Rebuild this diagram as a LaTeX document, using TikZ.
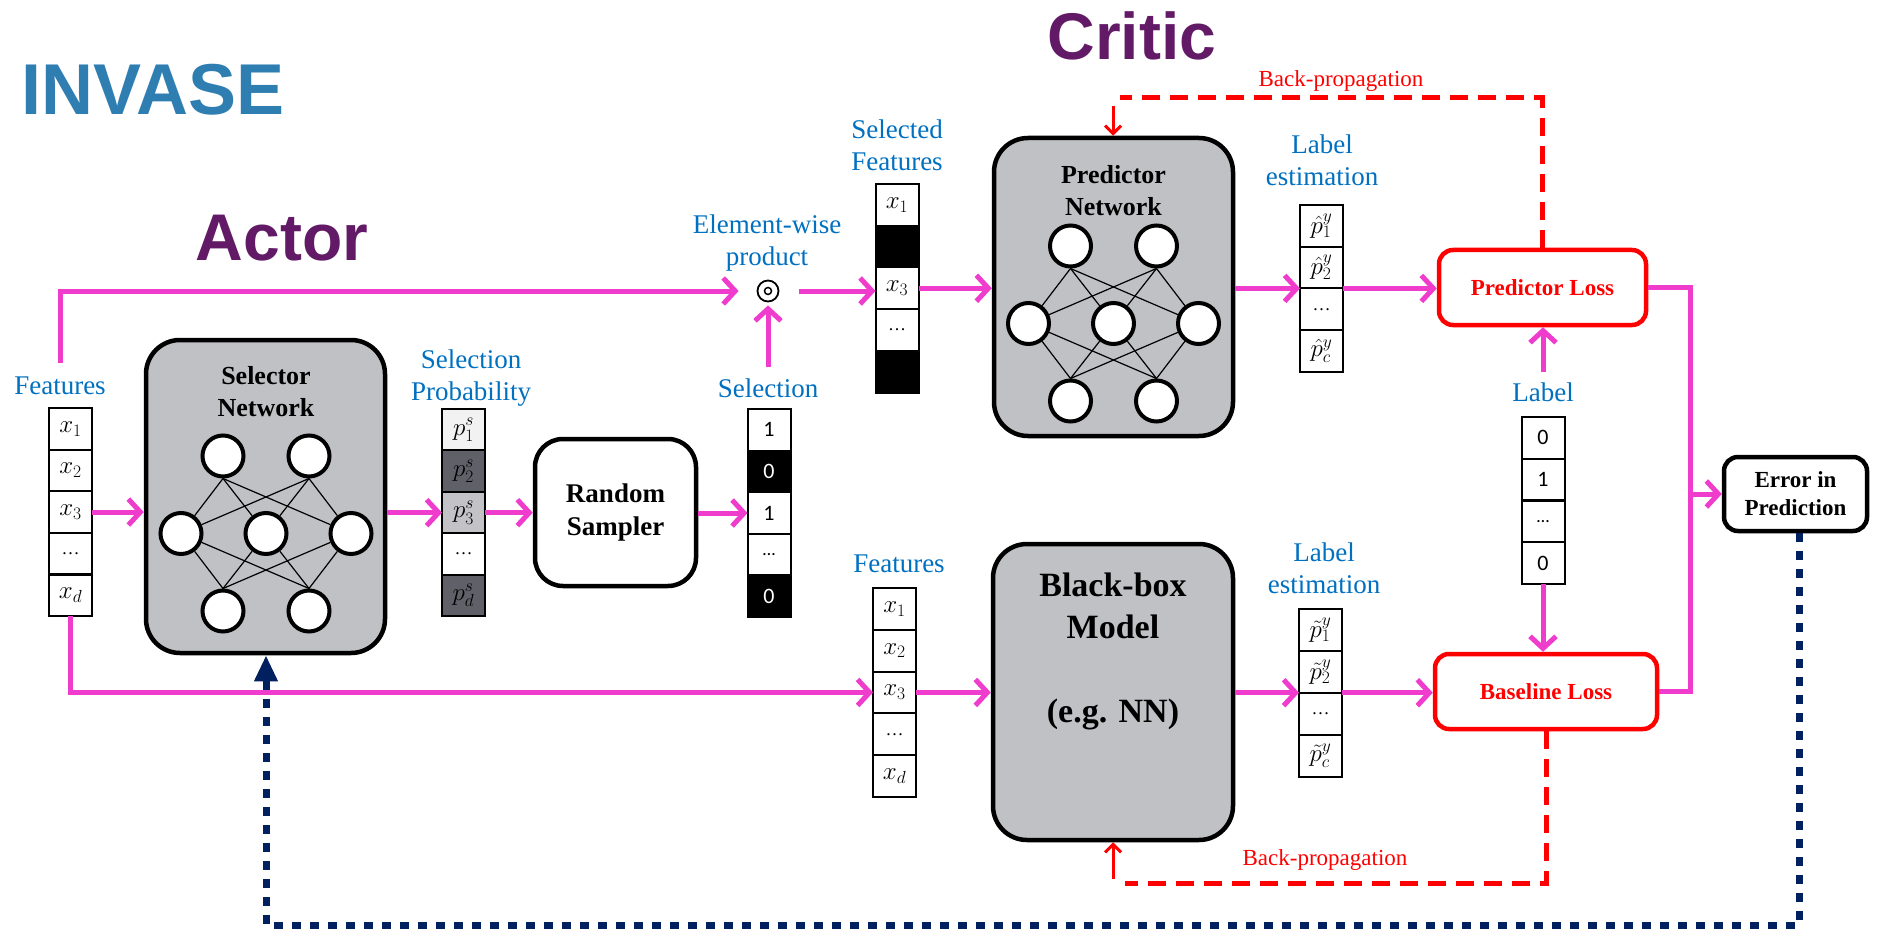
\RequirePackage{fix-cm}
\documentclass[tikz,border=0pt]{standalone}
\usepackage{fontspec}
\setmainfont{Liberation Serif}
\newfontfamily\headfont{Liberation Sans}
\newfontfamily\numfont{Carlito}
\usetikzlibrary{arrows.meta}

\definecolor{invblue}{RGB}{47,126,178}
\definecolor{rolepurple}{RGB}{98,25,102}
\definecolor{lblblue}{RGB}{0,112,192}
\definecolor{pinkc}{RGB}{240,60,205}
\definecolor{navyc}{RGB}{0,32,96}
\definecolor{boxgray}{RGB}{192,193,196}
\definecolor{lightc}{RGB}{242,242,242}
\definecolor{midc}{RGB}{195,195,199}
\definecolor{darkc}{RGB}{96,97,104}

% small ellipsis used inside the vector cells
\newcommand\celldots{{\fontsize{18}{20}\selectfont\dots}}

\tikzset{
  netbox/.style={draw, line width=4.5pt, fill=boxgray, inner sep=0pt},
  plainbox/.style={draw, line width=4.5pt, fill=white, align=center, inner sep=0pt},
  lossbox/.style={draw=red, line width=4.5pt, fill=white, rounded corners=14pt, text=red,
    align=center, inner sep=0pt, font=\bfseries\fontsize{23}{28}\selectfont},
  neuron/.style={circle, draw, line width=4pt, fill=white, minimum size=41pt, inner sep=0pt},
  synapse/.style={line width=1.2pt},
  cell/.style={draw, line width=2pt, minimum width=43pt, minimum height=41.7pt, inner sep=0pt,
    outer sep=0pt, anchor=north, font=\fontsize{25}{29}\selectfont},
  numcell/.style={cell, font=\numfont\fontsize{22}{26}\selectfont},
  lbl/.style={text=lblblue, align=center, inner sep=0pt, font=\fontsize{27}{32}\selectfont},
  bptext/.style={text=red, inner sep=0pt, font=\fontsize{23}{28}\selectfont},
  boxtitle/.style={align=center, inner sep=0pt, font=\bfseries\fontsize{26}{32}\selectfont},
  role/.style={inner sep=0pt, anchor=base, text=rolepurple, font=\headfont\bfseries\fontsize{66}{72}\selectfont},
  flow/.style={draw=pinkc, line width=5pt, -{Straight Barb[length=12pt,width=26pt]}},
  pinkline/.style={draw=pinkc, line width=5pt},
  bpline/.style={draw=red, line width=5pt, dash pattern=on 18pt off 10pt},
  bparrow/.style={draw=red, line width=3pt, -{Straight Barb[length=8pt,width=16pt]}},
  feedback/.style={draw=navyc, line width=7pt, dash pattern=on 9pt off 9pt,
    -{Triangle[length=26pt,width=22pt]}},
}

% a small fully connected network: prefix, centre x, y of the top row
\newcommand\neuralnet[3]{%
  \node[neuron] (#1t1) at ({#2-43},#3) {};
  \node[neuron] (#1t2) at ({#2+43},#3) {};
  \node[neuron] (#1m1) at ({#2-85},{#3+77.5}) {};
  \node[neuron] (#1m2) at (#2,{#3+77.5}) {};
  \node[neuron] (#1m3) at ({#2+85},{#3+77.5}) {};
  \node[neuron] (#1b1) at ({#2-43},{#3+155}) {};
  \node[neuron] (#1b2) at ({#2+43},{#3+155}) {};
  \foreach \u in {t1,t2}{\foreach \v in {m1,m2,m3}{\draw[synapse] (#1\u.south) -- (#1\v);}}
  \foreach \u in {b1,b2}{\foreach \v in {m1,m2,m3}{\draw[synapse] (#1\u.north) -- (#1\v);}}
}

\begin{document}
\begin{tikzpicture}[x=1pt,y=-1pt]
\useasboundingbox (0,0) rectangle (1877,936);
\fill[white] (0,0) rectangle (1877,936);

% headings
\node[inner sep=0pt, anchor=base, text=invblue, font=\headfont\bfseries\fontsize{72}{80}\selectfont]
  (invase) at (153,115) {INVASE};
\node[role] (actor) at (282,260) {Actor};
\node[role] (critic) at (1132,60) {Critic};

% ---------------- actor ----------------
\node[lbl, anchor=base] (featL) at (60,394) {Features};
\foreach \t [count=\i] in {$x_1$,$x_2$,$x_3$,\celldots,$x_d$}
  \node[cell] (fa\i) at (70.5,{408+(\i-1)*41.6}) {\t};

\node[netbox, minimum width=239pt, minimum height=313pt, rounded corners=34pt] (sel) at (265.5,496.5) {};
\node[boxtitle] (selT) at (266,392) {Selector\\Network};
\neuralnet{s}{266}{456}

\node[lbl] (probL) at (471,378) {Selection\\Probability};
\foreach \t/\c [count=\i] in {{$p^s_1$}/lightc,{$p^s_2$}/darkc,{$p^s_3$}/midc,{\celldots}/white,{$p^s_d$}/darkc}
  \node[cell, fill=\c] (pr\i) at (463.5,{409+(\i-1)*41.4}) {\t};

\node[plainbox, minimum width=161pt, minimum height=147pt, rounded corners=28pt,
  font=\bfseries\fontsize{27}{33}\selectfont] (samp) at (615.5,512.5) {Random\\Sampler};

\node[lbl, anchor=base] (selL) at (768,397) {Selection};
\foreach \t/\c/\k [count=\i] in {1/white/black,0/black/white,1/white/black,{\celldots}/white/black,0/black/white}
  \node[numcell, fill=\c, text=\k] (se\i) at (769,{409+(\i-1)*41.6}) {\t};

\node[circle, draw, line width=1.8pt, minimum size=21pt, inner sep=0pt] (odot) at (768,291) {};
\draw[line width=1.5pt] (odot.center) circle [radius=3.5pt];
\node[lbl] (ewL) at (767,243) {Element-wise\\product};

% ---------------- critic: predictor ----------------
\node[lbl] (sfL) at (897,145) {Selected\\Features};
\foreach \t/\c [count=\i] in {{$x_1$}/white,{}/black,{$x_3$}/white,{\celldots}/white,{}/black}
  \node[cell, fill=\c] (sf\i) at (897,{184+(\i-1)*41.7}) {\t};

\node[netbox, minimum width=239pt, minimum height=298pt, rounded corners=34pt] (pred) at (1113.5,287) {};
\node[boxtitle] (predT) at (1113.5,191) {Predictor\\Network};
\neuralnet{p}{1113.5}{246}

\node[lbl] (leL) at (1322,160) {Label\\estimation};
\foreach \t [count=\i] in {$\hat{p}^y_1$,$\hat{p}^y_2$,\celldots,$\hat{p}^y_c$}
  \node[cell] (le\i) at (1321.5,{205+(\i-1)*41.7}) {\t};

\node[lossbox, minimum width=207pt, minimum height=75pt] (ploss) at (1542.5,287.5) {Predictor Loss};

\node[lbl, anchor=base] (lbL) at (1543,401) {Label};
\foreach \t [count=\i] in {0,1,\celldots,0}
  \node[numcell] (lb\i) at (1543,{417+(\i-1)*41.75}) {\t};

\node[lossbox, minimum width=222pt, minimum height=75pt] (bloss) at (1546,691.5) {Baseline Loss};

\node[plainbox, minimum width=143pt, minimum height=74pt, rounded corners=14pt,
  font=\bfseries\fontsize{23}{28}\selectfont] (err) at (1795.5,494) {Error in\\Prediction};

% ---------------- critic: baseline ----------------
\node[lbl, anchor=base] (featBL) at (899,572) {Features};
\foreach \t [count=\i] in {$x_1$,$x_2$,$x_3$,\celldots,$x_d$}
  \node[cell] (fb\i) at (894.5,{588+(\i-1)*41.8}) {\t};

\node[netbox, minimum width=240pt, minimum height=296pt, rounded corners=34pt] (bb) at (1113,692) {};
\node[align=center, inner sep=0pt, font=\bfseries\fontsize{34}{42}\selectfont] (bbT) at (1113,651)
  {Black-box\\Model\\[42pt](e.g. NN)};

\node[lbl] (ltL) at (1324,568) {Label\\estimation};
\foreach \t [count=\i] in {$\tilde{p}^y_1$,$\tilde{p}^y_2$,\celldots,$\tilde{p}^y_c$}
  \node[cell] (lt\i) at (1320.5,{609+(\i-1)*42}) {\t};

\node[bptext, anchor=base] (bpTopL) at (1341,87) {Back-propagation};
\node[bptext, anchor=base] (bpBotL) at (1325,865) {Back-propagation};

% ---------------- data flow ----------------
\draw[flow] (fa3.east) -- (fa3.east -| sel.west);
\draw[flow] (sel.east |- pr3.west) -- (pr3.west);
\draw[flow] (pr3.east) -- (pr3.east -| samp.west);
\draw[flow] (samp.east |- se3.west) -- (se3.west);
\draw[flow, shorten <=11pt, shorten >=3pt] (selL.north) -- (selL.north |- odot.south);
\draw[flow, shorten <=13pt, shorten >=18pt] (featL.north) |- (odot.west);
\draw[flow, shorten <=20pt] (odot.east) -- (odot.east -| sf3.west);
\draw[flow] (sf3.east) -- (sf3.east -| pred.west);
\draw[flow] (pred.east |- le2.south west) -- (le2.south west);
\draw[flow] (le2.south east) -- (le2.south east -| ploss.west);
\draw[flow, shorten <=10pt] (lbL.north) -- (lbL.north |- ploss.south);
\draw[flow] (lb4.south) -- (lb4.south |- bloss.north);

\draw[flow] (fa5.south) |- (fb3.west);
\draw[flow] (fb3.east) -- (fb3.east -| bb.west);
\draw[flow] (bb.east |- lt2.south west) -- (lt2.south west);
\draw[flow] (lt2.south east) -- (lt2.south east -| bloss.west);

\coordinate (merge) at (1690,494);
\draw[pinkline] (ploss.east) -| (merge) |- (bloss.east);
\draw[flow] (merge) -- (merge -| err.west);

% ---------------- back-propagation ----------------
\coordinate (bpTop) at (1120,98);
\coordinate (bpTopTip) at (1113,106);
\draw[bpline] (ploss.north) |- (bpTop);
\draw[bparrow] (bpTopTip) -- (bpTopTip |- pred.north);

\coordinate (bpBot) at (1125,883);
\coordinate (bpBotTip) at (1113,879);
\draw[bpline] (bloss.south) |- (bpBot);
\draw[bparrow] (bpBotTip) -- (bpBotTip |- bb.south);

% ---------------- feedback to the selector ----------------
\coordinate (nvR) at (1799,925);
\coordinate (nvL) at (266,925);
\draw[feedback] (nvR |- err.south) -- (nvR) -- (nvL) -- (nvL |- sel.south);
\end{tikzpicture}
\end{document}
